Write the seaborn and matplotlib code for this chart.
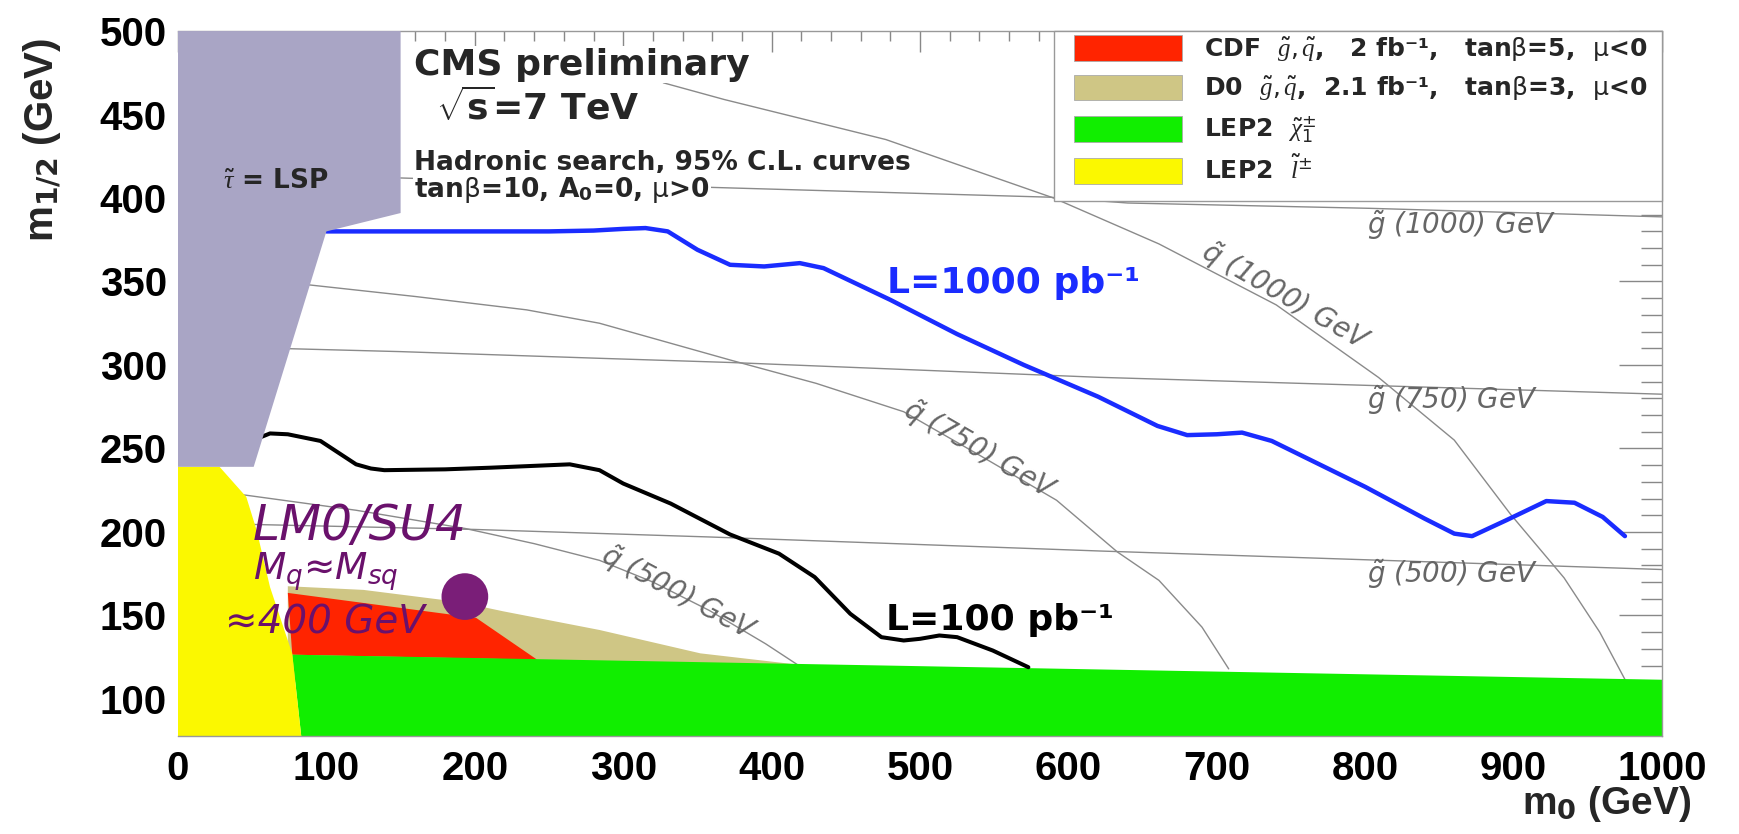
import matplotlib
matplotlib.use('Agg')
import matplotlib.pyplot as plt
from matplotlib.patches import Patch, Rectangle
from matplotlib.ticker import MultipleLocator
import seaborn as sns

# 95% CL reach curves (m0, m1/2) in GeV
blue_m0 = [100, 150, 200, 250, 280, 300, 315, 330, 350, 372, 395, 419, 435, 480, 525, 570, 620,
           660, 680, 700, 717, 737, 800, 840, 860, 872, 895, 922, 941, 960, 975]
blue_m12 = [380, 380, 380, 380, 380.5, 381.5, 382, 380, 369, 360, 359, 361, 358, 339, 318.5, 300, 281,
            263.5, 258, 258.5, 259.5, 254.5, 227, 208, 199, 197.5, 207, 218.5, 217.5, 209, 197.5]
black_m0 = [55, 62, 74, 96, 108, 120, 130, 139, 180, 211, 264, 284, 300, 332, 372, 405, 429, 453,
            474, 489, 500, 513, 525, 549, 573]
black_m12 = [256.5, 259, 258.5, 254.5, 247.5, 240.5, 238, 237, 237.5, 238.5, 240.5, 237, 229, 217,
             198.5, 187, 173, 151, 137, 135, 136, 138, 137, 129, 119]

# gluino / squark iso-mass curves
g1000_m0 = [150, 354, 587, 640, 804, 1000]
g1000_m12 = [412, 406.5, 400.5, 397, 393.8, 388.7]
g750_m0 = [0, 150, 284, 372, 621, 1000]
g750_m12 = [311.5, 308, 304, 301.5, 292.6, 282.5]
g500_m0 = [0, 200, 358, 621, 1000]
g500_m12 = [205.5, 201.5, 197, 188.6, 177.5]
q1000_m0 = [327, 368, 477, 590, 661, 740, 809, 860, 898, 934, 958, 976]
q1000_m12 = [469, 459, 435, 400, 372.5, 336, 292.5, 255, 210.5, 172.5, 140, 110]
q750_m0 = [60, 88, 160, 235, 284, 372, 430, 489, 540, 592, 633, 661, 690, 708]
q750_m12 = [350, 348, 341, 333, 325, 303, 289, 272, 246, 219, 188, 171, 143, 118]
q500_m0 = [0, 46, 120, 194, 240, 284, 320, 358, 396, 420]
q500_m12 = [226, 222, 213, 202, 193, 183, 170, 153, 133, 119]

# excluded regions
lsp_m0 = [0, 150, 150, 100, 51, 0]
lsp_m12 = [500, 500, 391, 380, 239, 239]
yellow_m0 = [0, 28, 46, 53, 62, 77, 84, 0]
yellow_m12 = [239, 239, 221, 201, 167, 127, 70, 70]
green_m0 = [77, 1000, 1000, 84]
green_m12 = [126.5, 111.5, 70, 70]
red_m0 = [74, 201, 242, 77]
red_m12 = [163.5, 148.5, 123.5, 126.5]
tan_m0 = [74, 125, 190, 219, 284, 352, 419, 419, 74]
tan_m12 = [167.5, 165.3, 158, 152.5, 141.3, 127.3, 120.4, 110, 110]

lm0_m0, lm0_m12 = [193.3], [161.3]

legend_labels = [
    r'CDF  $\tilde{g}, \tilde{q}$,   2 fb⁻¹,   tan$\mathrm{\beta}$=5,  $\mathrm{\mu}$<0',
    r'D0  $\tilde{g}, \tilde{q}$,  2.1 fb⁻¹,   tan$\mathrm{\beta}$=3,  $\mathrm{\mu}$<0',
    r'LEP2  $\tilde{\chi}^{\pm}_{1}$',
    r'LEP2  $\tilde{l}^{\pm}$',
]

c_red, c_tan, c_green, c_yellow = '#ff2400', '#cfc685', '#11ee00', '#fbf800'
c_lsp, c_blue, c_purple, c_dot, c_grey = '#a9a5c5', '#1a2cff', '#6a116c', '#7a1e78', '#8a8a8a'

sns.set_theme(style='white')
plt.rcParams['font.family'] = ['DejaVu Sans']
plt.rcParams['mathtext.fontset'] = 'custom'
plt.rcParams['mathtext.rm'] = 'DejaVu Sans'
plt.rcParams['mathtext.bf'] = 'DejaVu Sans:bold'
plt.rcParams['mathtext.it'] = 'Liberation Serif:italic'
plt.rcParams['mathtext.sf'] = 'DejaVu Sans:italic'

fig = plt.figure(figsize=(17.4, 8.34), dpi=100)
ax = fig.add_axes([0.1023, 0.1175, 0.8529, 0.8453])

# iso-mass lines
for xs, ys in [(g1000_m0, g1000_m12), (g750_m0, g750_m12), (g500_m0, g500_m12),
               (q1000_m0, q1000_m12), (q750_m0, q750_m12), (q500_m0, q500_m12)]:
    sns.lineplot(x=xs, y=ys, ax=ax, color=c_grey, linewidth=1.0, sort=False, estimator=None, zorder=1)

# exclusion regions
ax.fill(tan_m0, tan_m12, color=c_tan, lw=0, zorder=2)
ax.fill(red_m0, red_m12, color=c_red, lw=0, zorder=2)
ax.fill(green_m0, green_m12, color=c_green, lw=0, zorder=2)
ax.fill(yellow_m0, yellow_m12, color=c_yellow, lw=0, zorder=2)

# reach curves
sns.lineplot(x=blue_m0, y=blue_m12, ax=ax, color=c_blue, linewidth=3.2, sort=False, estimator=None,
             zorder=3, solid_joinstyle='round')
sns.lineplot(x=black_m0, y=black_m12, ax=ax, color='black', linewidth=2.9, sort=False, estimator=None,
             zorder=3, solid_joinstyle='round')
ax.fill(lsp_m0, lsp_m12, color=c_lsp, lw=0, zorder=3.5)

sns.scatterplot(x=lm0_m0, y=lm0_m12, ax=ax, s=1130, color=c_dot, edgecolor='none', zorder=5)

ax.set_xlim(0, 1000)
ax.set_ylim(77.8, 500)
ax.xaxis.set_major_locator(MultipleLocator(100))
ax.xaxis.set_minor_locator(MultipleLocator(20))
ax.yaxis.set_major_locator(MultipleLocator(50))
ax.yaxis.set_minor_locator(MultipleLocator(10))
ax.set_yticks(range(100, 501, 50))
ax.tick_params(axis='x', which='both', bottom=False, top=True, direction='in', color='#888888',
               labelsize=29, pad=10)
ax.tick_params(axis='x', which='major', length=15, width=1)
ax.tick_params(axis='x', which='minor', length=7.5, width=1)
ax.tick_params(axis='y', which='both', left=False, right=True, direction='in', color='#888888',
               labelsize=29, pad=8)
ax.tick_params(axis='y', which='major', length=31, width=1)
ax.tick_params(axis='y', which='minor', length=15, width=1)
for lbl in ax.get_xticklabels() + ax.get_yticklabels():
    lbl.set_fontfamily('Liberation Sans')
    lbl.set_fontweight('bold')
    lbl.set_color('black')
for side in ['top', 'right', 'bottom']:
    ax.spines[side].set_color('#999999')
    ax.spines[side].set_linewidth(1)
ax.spines['left'].set_visible(False)
ax.set_xlabel('')
ax.set_ylabel('')

fig.text(0.972, 0.036, r'm$_{\mathbf{0}}$ (GeV)', ha='right', va='center', fontsize=28,
         fontweight='bold', family='Liberation Sans')
fig.text(0.024, 0.955, r'm$_{\mathbf{1/2}}$ (GeV)', ha='center', va='top', rotation=90, fontsize=29,
         fontweight='bold', family='Liberation Sans')

# header texts
box = dict(facecolor='white', edgecolor='none', pad=1)
ax.text(159, 473.7, 'CMS preliminary', fontsize=26, fontweight='bold', va='baseline', zorder=5, bbox=box)
ax.text(174, 446.7, r'$\sqrt{\mathbf{s}}$=7 TeV', fontsize=26, fontweight='bold', va='baseline', zorder=5, bbox=box)
ax.text(159, 416.8, 'Hadronic search, 95% C.L. curves', fontsize=19, fontweight='bold', va='baseline',
        zorder=5, bbox=box)
ax.text(159, 400.8, r'tan$\mathrm{\beta}$=10, A$_{\mathbf{0}}$=0, $\mathrm{\mu}$>0', fontsize=19,
        fontweight='bold', va='baseline', zorder=5, bbox=box)
ax.text(30, 406, r'$\tilde{\tau}$ = LSP', fontsize=19, fontweight='bold', va='baseline', zorder=5)

ax.text(478, 343, 'L=1000 pb⁻¹', fontsize=26, fontweight='bold', color=c_blue, va='baseline', zorder=5)
ax.text(477, 141.3, 'L=100 pb⁻¹', fontsize=26, fontweight='bold', color='black', va='baseline', zorder=5)

ax.text(50.5, 195.2, 'LM0/SU4', fontsize=35, style='italic', color=c_purple, va='baseline', zorder=6)
ax.text(50.5, 171.3, r'M$_{\mathsf{q}}$≈M$_{\mathsf{sq}}$', fontsize=27, style='italic', color=c_purple,
        va='baseline', zorder=6)
ax.text(31.7, 139.3, '≈400 GeV', fontsize=28, style='italic', color=c_purple, va='baseline', zorder=6)

# iso-mass labels
lab = dict(fontsize=20, style='italic', color='#666666', zorder=4)
ax.text(801, 384, r'$\mathsf{\tilde{g}}$ (1000) GeV', va='center', **lab)
ax.text(801, 279, r'$\mathsf{\tilde{g}}$ (750) GeV', va='center', **lab)
ax.text(801, 175, r'$\mathsf{\tilde{g}}$ (500) GeV', va='center', **lab)
ax.text(746, 341, r'$\mathsf{\tilde{q}}$ (1000) GeV', ha='center', va='center', rotation=-30,
        rotation_mode='anchor', **lab)
ax.text(540, 249, r'$\mathsf{\tilde{q}}$ (750) GeV', ha='center', va='center', rotation=-30,
        rotation_mode='anchor', **lab)
ax.text(337, 163, r'$\mathsf{\tilde{q}}$ (500) GeV', ha='center', va='center', rotation=-28,
        rotation_mode='anchor', **lab)

# legend box
ax.add_patch(Rectangle((590, 398.4), 410, 101.6, facecolor='white', edgecolor='#999999', lw=1,
                       zorder=6, clip_on=False))
handles = [Patch(facecolor=c, edgecolor='#aaaaaa', lw=0.6) for c in [c_red, c_tan, c_green, c_yellow]]
leg = ax.legend(handles, legend_labels, loc='upper left', bbox_to_anchor=(0.6038, 0.994), frameon=False,
                prop={'weight': 'bold', 'size': 18}, handlelength=4.3, handleheight=1.2,
                handletextpad=0.9, labelspacing=0.45, borderpad=0, borderaxespad=0)
leg.set_zorder(7)

fig.savefig('out.png', dpi=100)
